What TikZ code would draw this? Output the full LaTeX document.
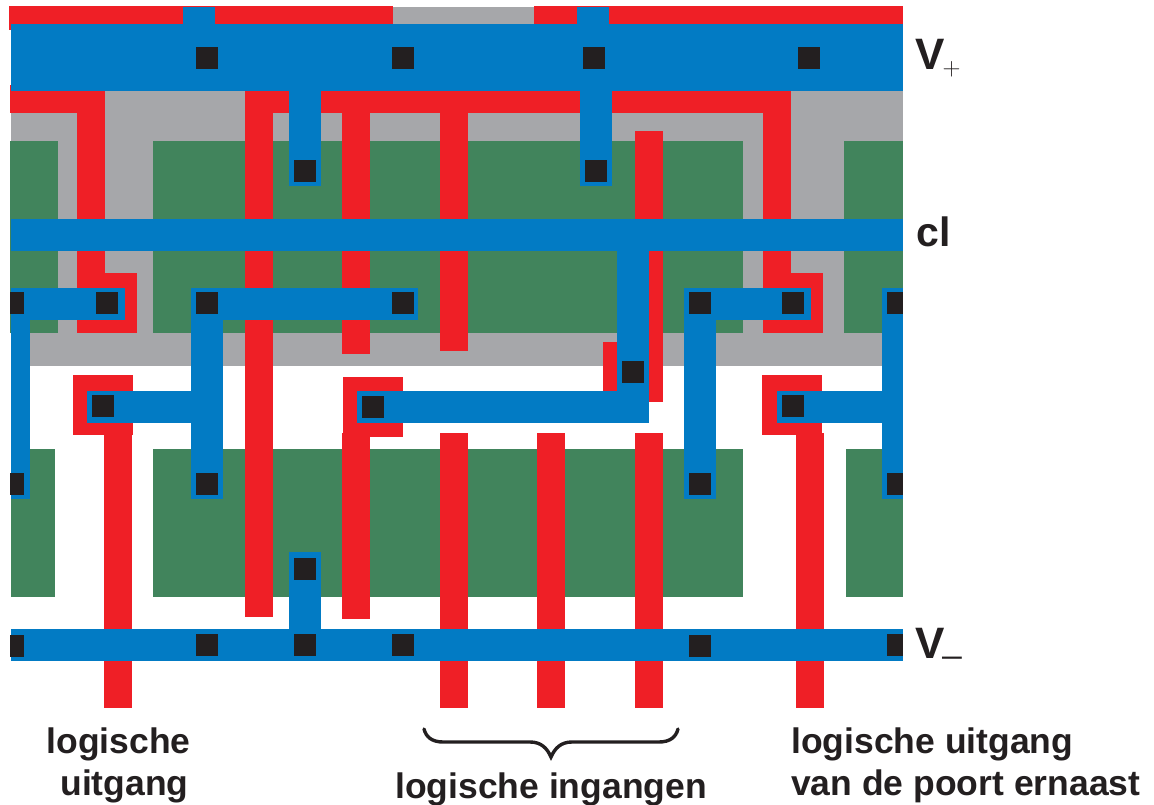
\documentclass[tikz,border=0pt]{standalone}
\usepackage{fontspec}
\setmainfont{Liberation Sans}
\definecolor{gatered}{HTML}{EF1F26}
\definecolor{metalblue}{HTML}{027BC4}
\definecolor{diffgreen}{HTML}{41845C}
\definecolor{wellgray}{HTML}{A6A7AA}
\definecolor{contactblack}{HTML}{231F20}
\newcommand{\layer}[5]{\fill[#1] (#2,#3) rectangle (#4,#5);}
\newcommand{\cnt}[2]{\fill[contactblack] (#1,#2) rectangle ++(22,22);}
\newcommand{\cntcut}[3]{\fill[contactblack] (#1,#3) rectangle (#2,#3+22);}
\tikzset{lab/.style={font=\bfseries\fontsize{35.5}{40}\selectfont,text=contactblack,inner sep=0pt,anchor=base west},
railab/.style={font=\bfseries\fontsize{44}{48}\selectfont,text=contactblack,inner sep=0pt,anchor=base west},
subs/.style={font=\fontsize{26}{28}\selectfont,text=contactblack,inner sep=0pt}}
\begin{document}
\begin{tikzpicture}[x=1pt,y=-1pt]
\useasboundingbox (0,0) rectangle (1154,805);
% gray well
\layer{wellgray}{11}{7}{903}{366}
% green diffusion
\foreach \a/\b in {10/58,153/743,844/903}{\layer{diffgreen}{\a}{141}{\b}{333}}
\foreach \a/\b in {11/55,153/743,846/903}{\layer{diffgreen}{\a}{449}{\b}{597}}
% red poly
\layer{gatered}{9}{6}{393}{30}
\layer{gatered}{534}{6}{903}{24}
\layer{gatered}{10}{85}{105}{113}
\layer{gatered}{77}{91}{105}{333}
\layer{gatered}{77}{273}{137}{333}
\layer{gatered}{245}{91}{791}{113}
\layer{gatered}{245}{91}{273}{617}
\layer{gatered}{342}{91}{370}{354}
\layer{gatered}{342}{433}{370}{619}
\layer{gatered}{440}{91}{468}{351}
\layer{gatered}{440}{433}{468}{708}
\layer{gatered}{635}{131}{663}{402}
\layer{gatered}{603}{342}{663}{402}
\layer{gatered}{635}{433}{663}{708}
\layer{gatered}{537}{433}{565}{708}
\layer{gatered}{763}{91}{791}{333}
\layer{gatered}{763}{273}{823}{333}
\layer{gatered}{73}{375}{133}{435}
\layer{gatered}{104}{435}{132}{708}
\layer{gatered}{343}{377}{403}{437}
\layer{gatered}{762}{375}{822}{435}
\layer{gatered}{796}{433}{824}{708}
% blue metal
\layer{metalblue}{11}{24}{903}{91}
\layer{metalblue}{183}{7}{215}{24}
\layer{metalblue}{577}{7}{609}{24}
\layer{metalblue}{289}{91}{321}{186}
\layer{metalblue}{580}{91}{612}{186}
\layer{metalblue}{11}{219}{903}{251}
\layer{metalblue}{617}{251}{649}{423}
\layer{metalblue}{357}{391}{649}{423}
\layer{metalblue}{11}{288}{125}{320}
\layer{metalblue}{11}{288}{30}{499}
\layer{metalblue}{191}{288}{418}{320}
\layer{metalblue}{191}{288}{223}{499}
\layer{metalblue}{87}{391}{191}{423}
\layer{metalblue}{684}{288}{811}{320}
\layer{metalblue}{684}{288}{716}{499}
\layer{metalblue}{882}{288}{903}{499}
\layer{metalblue}{777}{391}{903}{423}
\layer{metalblue}{11}{629}{903}{661}
\layer{metalblue}{289}{552}{321}{629}
% contacts
\cnt{196}{47}\cnt{392}{47}\cnt{583}{47}\cnt{798}{47}
\cnt{294}{160}\cnt{585}{160}
\cntcut{10}{24}{292}\cnt{96}{292}\cnt{196}{292}\cnt{392}{292}\cnt{689}{292}\cnt{782}{292}\cntcut{887}{903}{292}
\cnt{622}{361}
\cnt{92}{395}\cnt{362}{396}\cnt{782}{395}
\cntcut{10}{24}{473}\cnt{196}{473}\cnt{689}{473}\cntcut{887}{903}{473}
\cnt{294}{558}
\cntcut{10}{24}{635}\cnt{196}{634}\cnt{294}{634}\cnt{392}{634}\cnt{689}{635}\cntcut{887}{903}{634}
% brace
\draw[contactblack,line width=3.4pt,line cap=round]
 (424,729) .. controls (426,737) and (432,742) .. (443,742) -- (530,742)
 .. controls (541,742) and (547,748) .. (551,757)
 .. controls (555,748) and (561,742) .. (572,742) -- (659,742)
 .. controls (670,742) and (676,737) .. (678,729);
% labels
\node[railab] (vplus) at (915,70) {V};
\node[subs] (vplussub) at (951.5,69.5) {$+$};
\node[railab,font=\bfseries\fontsize{41}{44}\selectfont] (clk) at (916,247) {cl};
\node[railab] (vminus) at (915,658) {V\kern-2pt\raisebox{6pt}{\normalfont\fontsize{34}{36}\selectfont\_}};
\node[lab,anchor=base] (lu1) at (118.5,753) {logische};
\node[lab,anchor=base] (lu2) at (124.5,795) {uitgang};
\node[lab,anchor=base] (li) at (551,798) {logische ingangen};
\node[lab] (ru1) at (791,753) {logische uitgang};
\node[lab] (ru2) at (791,795) {van de poort ernaast};
\end{tikzpicture}
\end{document}
